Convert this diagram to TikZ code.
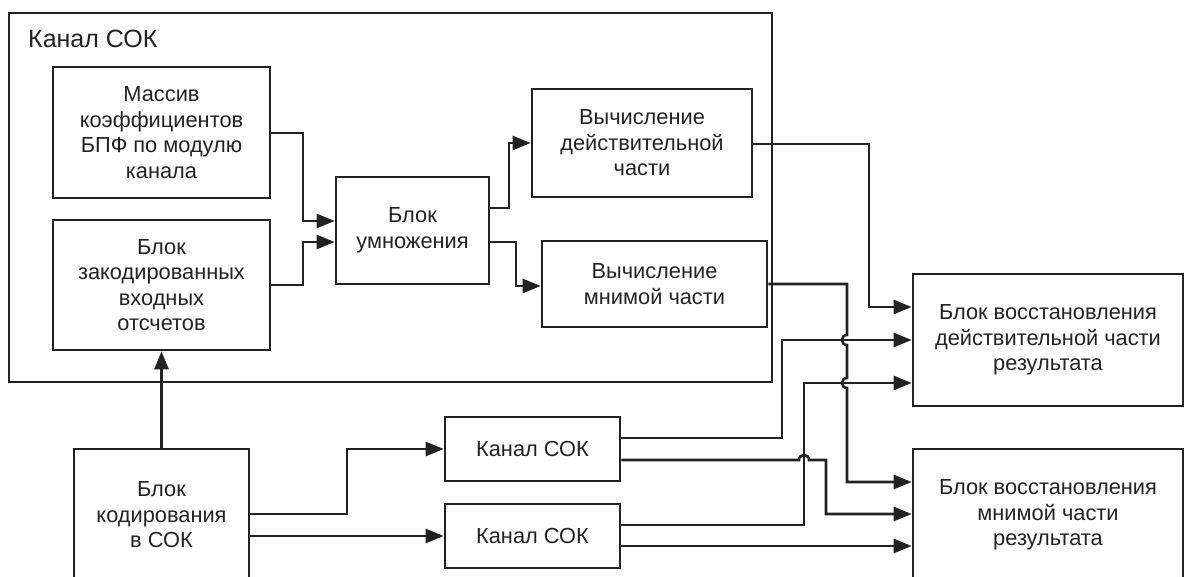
\documentclass[tikz,border=0pt]{standalone}
\usepackage{fontspec}
\setmainfont{Liberation Sans}
\usetikzlibrary{arrows.meta}
\definecolor{ink}{HTML}{222222}
\tikzset{
  blk/.style={draw=ink, line width=2.6pt, inner sep=0pt, align=center, text=ink,
    font=\fontsize{21.8}{25.5}\selectfont},
  arr/.style={draw=ink, line width=2.6pt, -{Triangle[length=18pt,width=14pt]}},
}
\begin{document}
\begin{tikzpicture}[x=1pt,y=-1pt]
\useasboundingbox (0,0) rectangle (1187,577);
% outer frame
\node[blk, minimum width=763, minimum height=369] (frame) at (390.5,197.5) {};
\node[text=ink, anchor=west, inner sep=0pt, font=\fontsize{25}{30}\selectfont] (title) at (28,39) {Канал СОК};
% blocks
\node[blk, minimum width=217, minimum height=131] (b1) at (161.5,132.5) {Массив\\коэффициентов\\БПФ по модулю\\канала};
\node[blk, minimum width=217, minimum height=130] (b2) at (161.5,285) {Блок\\закодированных\\входных\\отсчетов};
\node[blk, minimum width=153, minimum height=107] (b3) at (412.5,230.5) {Блок\\умножения};
\node[blk, minimum width=220, minimum height=108] (b4) at (642,143) {Вычисление\\действительной\\части};
\node[blk, minimum width=225, minimum height=86] (b5) at (654.5,284) {Вычисление\\мнимой части};
\node[blk, minimum width=270, minimum height=132] (b6) at (1048,340) {Блок восстановления\\действительной части\\результата};
\node[blk, minimum width=270, minimum height=132] (b7) at (1048,515) {Блок восстановления\\мнимой части\\результата};
\node[blk, minimum width=175, minimum height=64] (b8) at (532.5,449) {Канал СОК};
\node[blk, minimum width=175, minimum height=64] (b9) at (532.5,536) {Канал СОК};
\node[blk, minimum width=175, minimum height=132] (b10) at (161.5,515) {Блок\\кодирования\\в СОК};
% connectors inside frame
\draw[arr] (b1.east |- 0,133) -- (303,133) -- (303,221) -- (b3.west |- 0,221);
\draw[arr] (b2.east) -- (303,285) -- (303,242) -- (b3.west |- 0,242);
\draw[arr] (b3.east |- 0,208) -- (509,208) -- (509,143) -- (b4.west);
\draw[arr] (b3.east |- 0,242) -- (516,242) -- (516,286) -- (b5.west |- 0,286);
% to restoration blocks
\draw[arr] (b4.east |- 0,144) -- (869,144) -- (869,307) -- (b6.west |- 0,307);
\draw[arr] (b5.east) -- (847,284) -- (847,335)
  .. controls (840.3,335) and (840.3,345) .. (847,345) -- (847,378)
  .. controls (840.3,378) and (840.3,388) .. (847,388) -- (847,482) -- (b7.west |- 0,482);
% coding block
\draw[arr] (b10.north) -- (b2.south);
\draw[arr] (b10.east |- 0,514) -- (347,514) -- (347,449) -- (b8.west);
\draw[arr] (b10.east |- 0,536) -- (b9.west);
% channel outputs
\draw[arr] (b8.east |- 0,438) -- (782,438) -- (782,340) -- (b6.west |- 0,340);
\draw[arr] (b8.east |- 0,460) -- (799,460)
  .. controls (799,453.3) and (809,453.3) .. (809,460) -- (826,460) -- (826,514) -- (b7.west |- 0,514);
\draw[arr] (b9.east |- 0,525) -- (804,525) -- (804,383) -- (b6.west |- 0,383);
\draw[arr] (b9.east |- 0,546) -- (b7.west |- 0,546);
\end{tikzpicture}
\end{document}
